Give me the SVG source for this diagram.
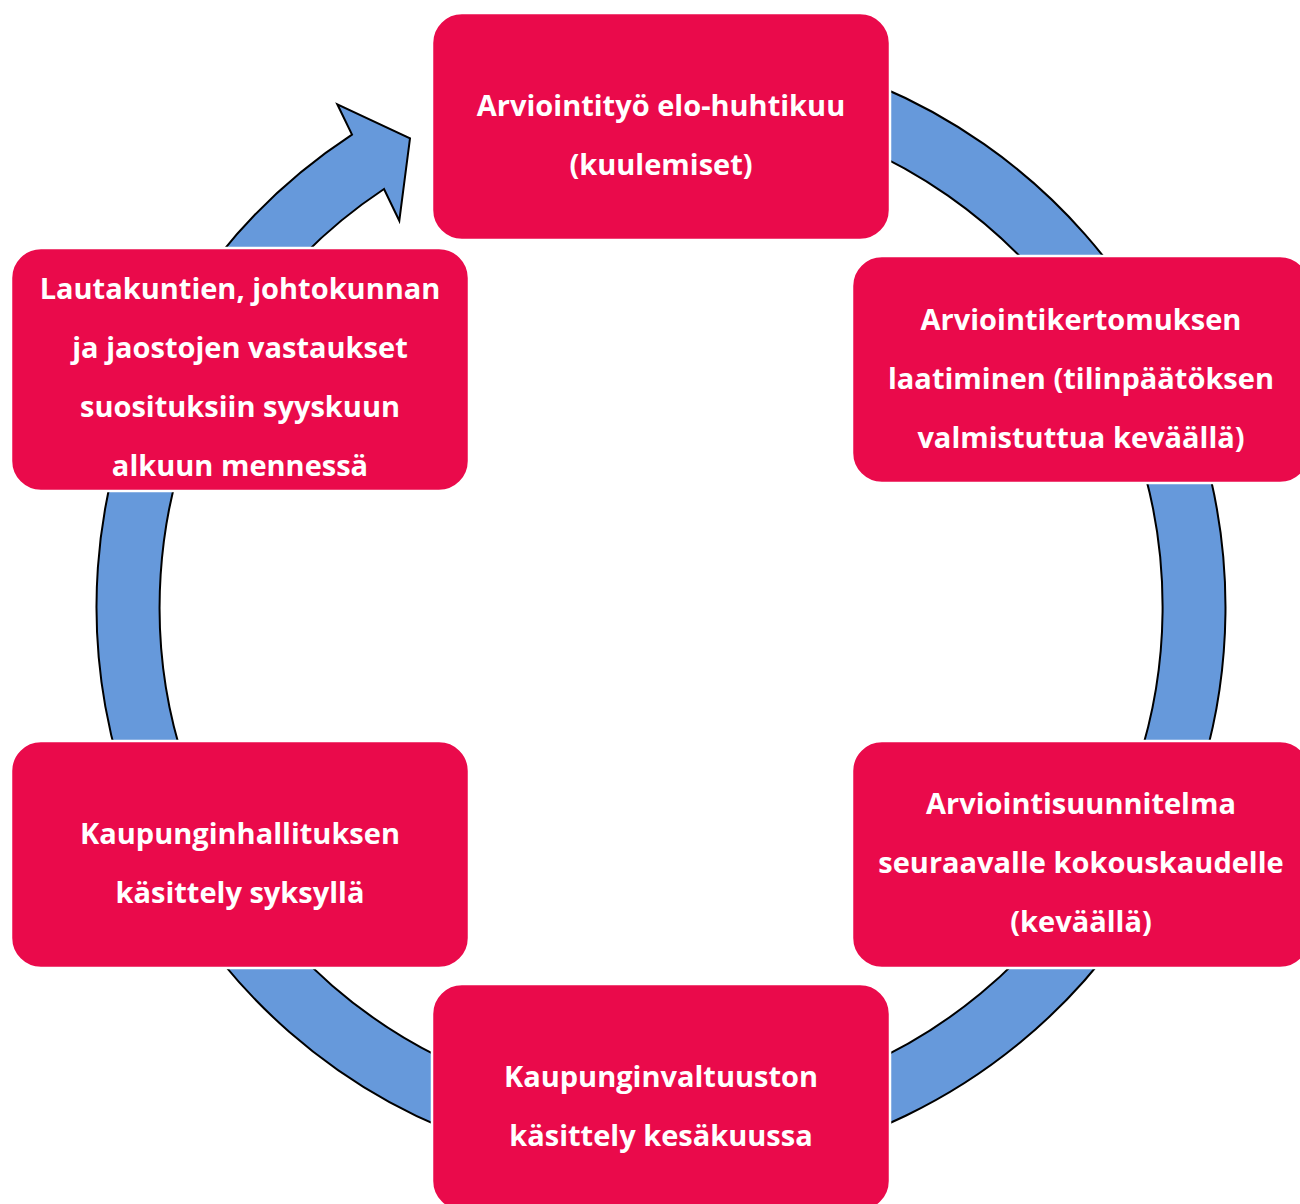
<svg xmlns="http://www.w3.org/2000/svg" width="1300" height="1204" viewBox="0 0 1300 1204">
<style>
.box{fill:#EA0A4B;stroke:#ffffff;stroke-width:2.5}
.t{font-family:"Open Sans","Liberation Sans",sans-serif;font-weight:700;font-size:29px;fill:#ffffff;text-anchor:middle}
</style>
<rect width="1300" height="1204" fill="#ffffff"/>
<g id="connectors">
<path d="M759,51.1 A564.5,564.5 0 1 1 352,134.6 L337.3,104.3 L410,138.3 L399.3,220.7 L384,189 A501.5,501.5 0 1 0 748.1,113.1 Z" fill="#6699DB" stroke="#000000" stroke-width="2" stroke-linejoin="miter"/>
</g>
<g id="node1">
<rect class="box" x="432" y="13" width="458" height="227" rx="30"/>
<text class="t" x="661" y="116">Arviointityö elo-huhtikuu</text>
<text class="t" x="661" y="175">(kuulemiset)</text>
</g>
<g id="node2">
<rect class="box" x="852" y="256" width="458" height="227" rx="30"/>
<text class="t" x="1081" y="330">Arviointikertomuksen</text>
<text class="t" x="1081" y="389">laatiminen (tilinpäätöksen</text>
<text class="t" x="1081" y="448">valmistuttua keväällä)</text>
</g>
<g id="node3">
<rect class="box" x="852" y="741" width="458" height="227" rx="30"/>
<text class="t" x="1081" y="814">Arviointisuunnitelma</text>
<text class="t" x="1081" y="873">seuraavalle kokouskaudelle</text>
<text class="t" x="1081" y="932">(keväällä)</text>
</g>
<g id="node4">
<rect class="box" x="432" y="984" width="458" height="227" rx="30"/>
<text class="t" x="661" y="1087">Kaupunginvaltuuston</text>
<text class="t" x="661" y="1146">käsittely kesäkuussa</text>
</g>
<g id="node5">
<rect class="box" x="11" y="741" width="458" height="227" rx="30"/>
<text class="t" x="240" y="844">Kaupunginhallituksen</text>
<text class="t" x="240" y="903">käsittely syksyllä</text>
</g>
<g id="node6">
<rect class="box" x="11" y="248" width="458" height="243" rx="30"/>
<text class="t" x="240" y="299">Lautakuntien, johtokunnan</text>
<text class="t" x="240" y="358">ja jaostojen vastaukset</text>
<text class="t" x="240" y="417">suosituksiin syyskuun</text>
<text class="t" x="240" y="476">alkuun mennessä</text>
</g>
</svg>
